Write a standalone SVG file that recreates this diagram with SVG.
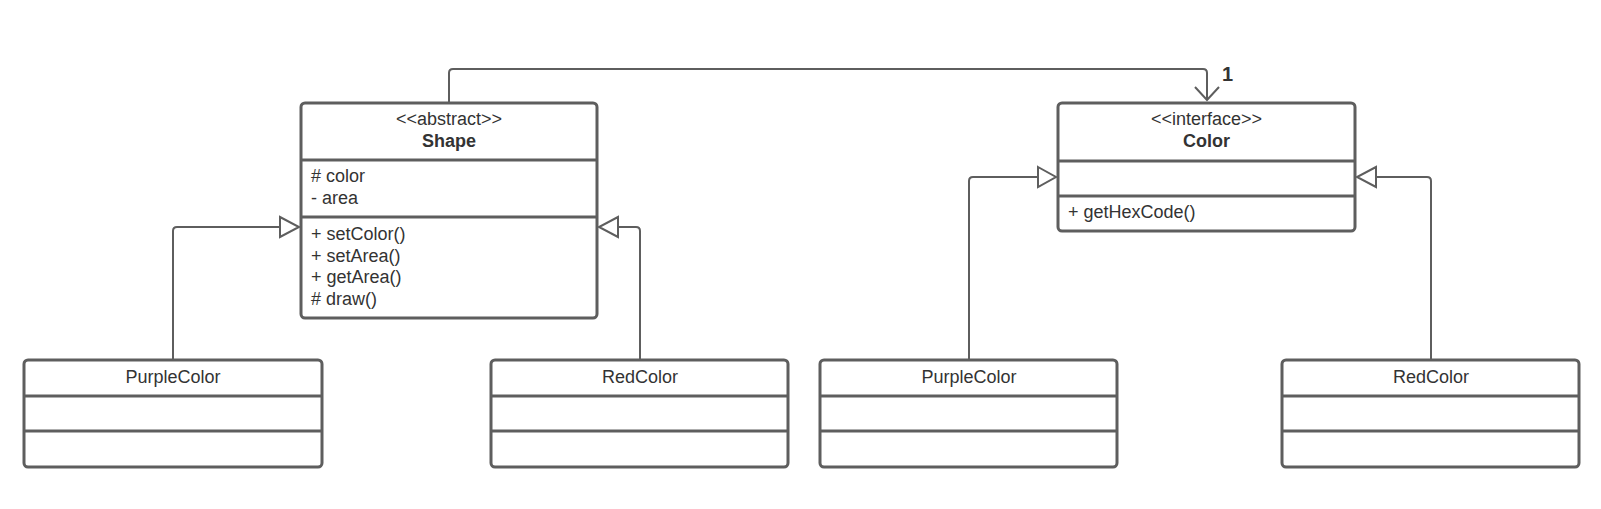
<svg xmlns="http://www.w3.org/2000/svg" width="1601" height="509" viewBox="0 0 1601 509">
<style>
.box{fill:#fff;stroke:#5e5e5e;stroke-width:3}
.div{stroke:#5e5e5e;stroke-width:3}
.t{font-family:"Liberation Sans",Arial,sans-serif;font-size:18px;fill:#333}
.c{text-anchor:middle}
.b{font-weight:bold}
.con{fill:none;stroke:#5e5e5e;stroke-width:2}
.tri{fill:#fff;stroke:#5e5e5e;stroke-width:2}
</style>
<rect width="1601" height="509" fill="#fff"/>
<g id="connectors">
<path class="con" d="M449,103 V73 Q449,69 453,69 H1203 Q1207,69 1207,73 V100"/>
<path class="con" d="M1195,87 L1207,100 L1219,87"/>
<text class="t b" x="1222" y="81" style="font-size:20px">1</text>
<path class="con" d="M173,360 V231 Q173,227 177,227 H280"/>
<polygon class="tri" points="280,217 299,227 280,237"/>
<path class="con" d="M640,360 V231 Q640,227 636,227 H618"/>
<polygon class="tri" points="618,217 599,227 618,237"/>
<path class="con" d="M969,360 V181 Q969,177 973,177 H1038"/>
<polygon class="tri" points="1038,167 1056,177 1038,187"/>
<path class="con" d="M1431,360 V181 Q1431,177 1427,177 H1376"/>
<polygon class="tri" points="1376,167 1357,177 1376,187"/>
</g>
<g id="shape">
<rect class="box" x="301" y="103" width="296" height="215" rx="4"/>
<line class="div" x1="301" y1="160" x2="597" y2="160"/>
<line class="div" x1="301" y1="217" x2="597" y2="217"/>
<text class="t c" x="449" y="125">&lt;&lt;abstract&gt;&gt;</text>
<text class="t c b" x="449" y="147">Shape</text>
<text class="t" x="311" y="182"># color</text>
<text class="t" x="311" y="204">- area</text>
<text class="t" x="311" y="240">+ setColor()</text>
<text class="t" x="311" y="262">+ setArea()</text>
<text class="t" x="311" y="283">+ getArea()</text>
<text class="t" x="311" y="305"># draw()</text>
</g>
<g id="color">
<rect class="box" x="1058" y="103" width="297" height="128" rx="4"/>
<line class="div" x1="1058" y1="161" x2="1355" y2="161"/>
<line class="div" x1="1058" y1="196" x2="1355" y2="196"/>
<text class="t c" x="1206.5" y="125">&lt;&lt;interface&gt;&gt;</text>
<text class="t c b" x="1206.5" y="147">Color</text>
<text class="t" x="1068" y="218">+ getHexCode()</text>
</g>
<g id="purple1">
<rect class="box" x="24" y="360" width="298" height="107" rx="4"/>
<line class="div" x1="24" y1="396" x2="322" y2="396"/>
<line class="div" x1="24" y1="431" x2="322" y2="431"/>
<text class="t c" x="173" y="383">PurpleColor</text>
</g>
<g id="red1">
<rect class="box" x="491" y="360" width="297" height="107" rx="4"/>
<line class="div" x1="491" y1="396" x2="788" y2="396"/>
<line class="div" x1="491" y1="431" x2="788" y2="431"/>
<text class="t c" x="640" y="383">RedColor</text>
</g>
<g id="purple2">
<rect class="box" x="820" y="360" width="297" height="107" rx="4"/>
<line class="div" x1="820" y1="396" x2="1117" y2="396"/>
<line class="div" x1="820" y1="431" x2="1117" y2="431"/>
<text class="t c" x="969" y="383">PurpleColor</text>
</g>
<g id="red2">
<rect class="box" x="1282" y="360" width="297" height="107" rx="4"/>
<line class="div" x1="1282" y1="396" x2="1579" y2="396"/>
<line class="div" x1="1282" y1="431" x2="1579" y2="431"/>
<text class="t c" x="1431" y="383">RedColor</text>
</g>
</svg>
